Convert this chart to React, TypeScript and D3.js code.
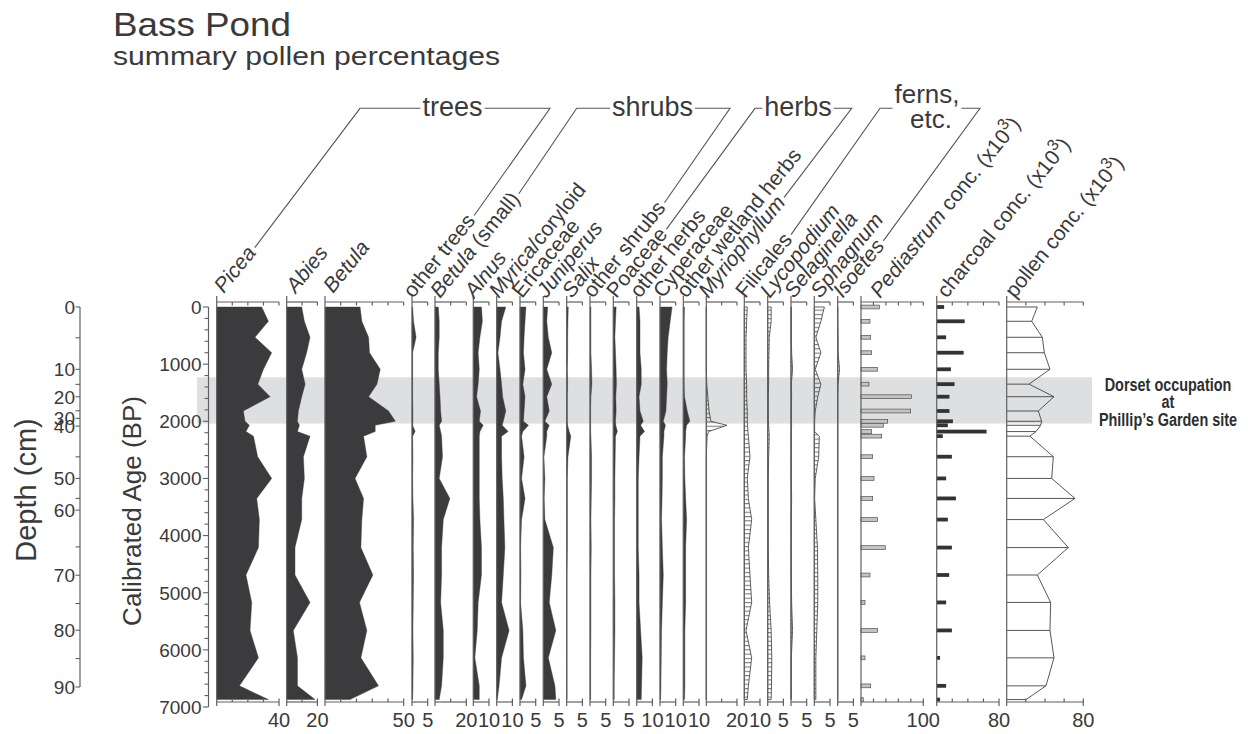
import React, { useEffect, useRef } from "react";
import * as d3 from "d3";

// ---- data -------------------------------------------------------------
const sampleAges = [0, 250, 530, 800, 1090, 1350, 1570, 1820, 2000, 2070, 2180, 2260, 2620, 3000, 3350, 3720, 4210, 4690, 5170, 5660, 6140, 6630, 6870];

const picea = [28.9, 33.2, 24.6, 35.3, 30.0, 26.4, 34.3, 17.1, 18.2, 21.0, 18.8, 23.6, 26.3, 35.3, 25.7, 27.4, 26.8, 18.8, 22.5, 21.4, 26.8, 14.6, 33.2];
const abies = [9.8, 11.5, 15.2, 13.0, 9.8, 12.0, 9.8, 7.6, 7.0, 8.3, 7.0, 15.2, 10.9, 11.5, 9.8, 9.8, 5.4, 5.4, 15.2, 4.3, 7.0, 7.0, 18.5];
const betula = [22.3, 23.4, 27.7, 28.3, 35.1, 33.0, 27.7, 40.4, 44.7, 31.9, 31.9, 24.5, 26.6, 19.1, 24.5, 23.4, 22.8, 30.4, 21.9, 26.6, 22.8, 34.0, 15.9];
const otherTrees = [0.2, 0.5, 1.3, 0.2, 0.2, 0.2, 0.2, 0.3, 0.3, 0.2, 1.0, 0.2, 0.3, 0.2, 0.3, 0.5, 0.4, 0.5, 0.4, 0.3, 0.4, 0.3, 0.2];
const betulaSmall = [2.1, 2.7, 2.7, 2.1, 2.1, 2.7, 3.2, 3.6, 4.2, 2.7, 3.6, 4.2, 4.8, 2.7, 9.5, 5.3, 4.2, 4.2, 3.6, 5.3, 5.3, 4.2, 2.7];
const alnus = [5.2, 5.8, 4.2, 3.1, 3.8, 3.1, 2.1, 4.6, 3.8, 6.3, 4.2, 3.8, 3.8, 3.8, 3.8, 4.2, 5.2, 5.2, 3.1, 2.5, 1.0, 3.8, 3.8];
const myrica = [5.8, 3.1, 2.1, 0.8, 2.1, 3.1, 3.8, 5.8, 4.2, 3.5, 7.3, 3.1, 3.1, 3.5, 4.2, 4.6, 5.2, 4.2, 3.1, 7.9, 3.1, 1.5, 0.4];
const ericaceae = [1.9, 1.6, 1.3, 1.1, 1.6, 0.9, 1.6, 1.3, 1.1, 2.7, 0.9, 0.5, 1.3, 0.5, 1.6, 0.5, 0.2, 0.3, 0.2, 0.9, 1.1, 1.9, 0.5];
const juniperus = [1.4, 1.1, 1.6, 2.7, 1.1, 2.7, 1.1, 1.9, 0.5, 1.9, 1.1, 1.1, 0.2, 0.5, 0.3, 0.5, 3.2, 2.7, 1.9, 4.0, 1.6, 3.7, 4.0];
const salix = [0.5, 0.4, 0.3, 0.3, 0.2, 0.3, 0.2, 0.2, 0.2, 0.3, 0.8, 1.3, 0.4, 0.2, 0.2, 0.2, 0.2, 0.1, 0.1, 0.1, 0.1, 0.1, 0.1];
const otherShrubs = [0.3, 0.3, 0.3, 0.3, 0.5, 0.6, 0.3, 0.2, 0.2, 0.2, 0.2, 0.3, 0.5, 0.5, 0.4, 0.3, 0.4, 0.3, 0.3, 0.3, 0.2, 0.2, 0.2];
const poaceae = [0.9, 0.7, 0.5, 0.7, 0.9, 1.0, 0.8, 0.9, 0.7, 0.8, 1.3, 0.7, 0.6, 0.5, 0.5, 0.4, 0.4, 0.4, 0.5, 0.5, 0.4, 0.3, 0.3];
const otherHerbs = [1.5, 2.1, 2.1, 2.1, 2.9, 2.9, 1.5, 2.1, 4.2, 2.5, 5.0, 2.1, 1.5, 1.0, 1.0, 1.0, 1.0, 1.5, 1.5, 2.5, 3.5, 3.1, 2.9];
const cyperaceae = [7.7, 6.5, 5.2, 4.6, 4.2, 4.6, 4.2, 3.8, 2.1, 3.5, 2.5, 2.5, 1.5, 1.5, 1.3, 1.0, 1.5, 2.1, 1.5, 1.0, 0.8, 0.6, 0.4];
const otherWetland = [0.8, 0.6, 0.6, 0.6, 0.6, 0.6, 0.8, 2.5, 4.2, 2.1, 1.5, 1.5, 0.8, 1.0, 1.5, 2.1, 1.5, 1.5, 1.5, 1.0, 1.0, 1.0, 0.8];
const myriophyllum = [0, 0, 0, 0, 0, 0.3, 1.0, 1.8, 3.0, 13.5, 1.5, 0.5, 0, 0, 0, 0, 0, 0, 0, 0, 0, 0, 0];
const filicales = [1.9, 1.5, 1.1, 1.1, 1.1, 1.5, 1.5, 1.9, 1.9, 2.1, 2.3, 2.6, 3.6, 1.9, 2.6, 4.7, 2.6, 3.6, 4.7, 1.1, 4.7, 2.6, 1.9];
const lycopodium = [1.1, 1.1, 0.5, 0.4, 0.3, 0.3, 0.2, 0.2, 0.2, 0.3, 0.4, 0.5, 0.3, 0.2, 0.2, 0.2, 0.2, 0.3, 0.6, 1.1, 1.3, 1.2, 1.1];
const selaginella = [0.1, 0.1, 0.1, 0.2, 0.5, 0.1, 0.2, 0.1, 0.1, 0.2, 0.1, 0.1, 0.1, 0.1, 0.2, 0.1, 0.1, 0.1, 0.2, 0.5, 0.1, 0.1, 0.1];
const sphagnum = [3.2, 2.1, 0.5, 2.1, 0.3, 2.1, 1.1, 0.3, 0.1, 0.1, 0.1, 1.6, 1.4, 0.3, 0.1, 0.5, 1.0, 1.1, 1.1, 0.8, 0.5, 0.5, 0.5];
const isoetes = [0, 0, 0.1, 0.1, 0.6, 0.1, 0, 0, 0, 0, 0, 0, 0, 0, 0, 0, 0, 0, 0, 0, 0, 0, 0];
const pediastrumConc = [29.4, 14.4, 15.5, 17.1, 26.7, 12.8, 81.3, 79.7, 42.8, 35.8, 17.1, 33.2, 18.7, 20.9, 18.7, 26.7, 39.0, 14.4, 6.4, 26.7, 6.4, 15.5, 3.7];
const charcoalConc = [9.5, 35.9, 12.1, 34.6, 18.2, 22.9, 16.4, 16.4, 20.8, 14.3, 64.0, 7.8, 19.5, 12.1, 24.7, 14.3, 19.5, 16.0, 12.1, 19.5, 4.3, 12.1, 4.3];
const pollenConc = [32.0, 26.1, 37.2, 39.3, 45.2, 23.3, 49.4, 33.0, 36.5, 35.5, 30.6, 24.3, 48.7, 47.0, 71.3, 38.3, 64.3, 32.0, 45.9, 45.2, 49.4, 41.0, 20.2];

const ageTicks = [0, 1000, 2000, 3000, 4000, 5000, 6000, 7000];
const depthTicks = [0, 10, 20, 30, 40, 50, 60, 70, 80, 90];
const depthMinorTicks = [5, 15, 25, 45, 55, 65, 75, 85];
const depthModelCm = [0, 5, 10, 15, 20, 25, 30, 40, 45, 50, 55, 60, 65, 70, 75, 80, 85, 90];
const depthModelAge = [0, 538, 1091, 1354, 1571, 1816, 1949, 2084, 2622, 3000, 3350, 3555, 4198, 4694, 5189, 5657, 6152, 6650];
const dorsetPeriod = [1230, 2040];
const dorsetLines = ["Dorset occupation", "at", "Phillip\u2019s Garden site"];

type Part = { t: string; i?: boolean; sup?: boolean };

export default function App() {
  const ref = useRef<SVGSVGElement>(null);

  useEffect(() => {
    const node = ref.current;
    if (!node) return;
    const svg = d3.select(node);
    svg.selectAll("*").remove();

    const FONT = "'Liberation Sans', Arial, Helvetica, sans-serif";
    const INK = "#3a3a3a";
    const AXIS = "#606060";
    const FILL = "#3b3b3d";
    const TOP = 302;
    const BOT = 702;
    const y = d3.scaleLinear().domain([0, 7000]).range([307, 707]);

    const conc = (s: string, italic = false): Part[] => [
      { t: s, i: italic },
      { t: " conc. (x10" },
      { t: "3", sup: true },
      { t: ")" },
    ];

    const taxa: { label: Part[]; values: number[]; max: number; step: number; kind: string }[] = [
      { label: [{ t: "Picea", i: true }], values: picea, max: 40, step: 10, kind: "solid" },
      { label: [{ t: "Abies", i: true }], values: abies, max: 20, step: 10, kind: "solid" },
      { label: [{ t: "Betula", i: true }], values: betula, max: 50, step: 10, kind: "solid" },
      { label: [{ t: "other trees" }], values: otherTrees, max: 5, step: 5, kind: "solid" },
      { label: [{ t: "Betula", i: true }, { t: " (small)" }], values: betulaSmall, max: 20, step: 10, kind: "solid" },
      { label: [{ t: "Alnus", i: true }], values: alnus, max: 10, step: 10, kind: "solid" },
      { label: [{ t: "Myrica", i: true }, { t: "/coryloid" }], values: myrica, max: 10, step: 10, kind: "solid" },
      { label: [{ t: "Ericaceae" }], values: ericaceae, max: 5, step: 5, kind: "solid" },
      { label: [{ t: "Juniperus", i: true }], values: juniperus, max: 5, step: 5, kind: "solid" },
      { label: [{ t: "Salix", i: true }], values: salix, max: 5, step: 5, kind: "solid" },
      { label: [{ t: "other shrubs" }], values: otherShrubs, max: 5, step: 5, kind: "solid" },
      { label: [{ t: "Poaceae" }], values: poaceae, max: 5, step: 5, kind: "solid" },
      { label: [{ t: "other herbs" }], values: otherHerbs, max: 10, step: 10, kind: "solid" },
      { label: [{ t: "Cyperaceae" }], values: cyperaceae, max: 10, step: 10, kind: "solid" },
      { label: [{ t: "other wetland herbs" }], values: otherWetland, max: 10, step: 10, kind: "solid" },
      { label: [{ t: "Myriophyllum", i: true }], values: myriophyllum, max: 20, step: 10, kind: "hatch" },
      { label: [{ t: "Filicales" }], values: filicales, max: 10, step: 10, kind: "hatch" },
      { label: [{ t: "Lycopodium", i: true }], values: lycopodium, max: 5, step: 5, kind: "hatch" },
      { label: [{ t: "Selaginella", i: true }], values: selaginella, max: 5, step: 5, kind: "hatch" },
      { label: [{ t: "Sphagnum", i: true }], values: sphagnum, max: 5, step: 5, kind: "hatch" },
      { label: [{ t: "Isoetes", i: true }], values: isoetes, max: 5, step: 5, kind: "hatch" },
      { label: conc("Pediastrum", true), values: pediastrumConc, max: 100, step: 20, kind: "barLight" },
      { label: conc("charcoal"), values: charcoalConc, max: 80, step: 20, kind: "barDark" },
      { label: conc("pollen"), values: pollenConc, max: 80, step: 20, kind: "outline" },
    ];

    // layout: panel left edge and width (px)
    const NW = 15.7;
    const layout: [number, number][] = [
      [216.7, 62.3], [286.7, 30.7], [325, 78.7], [412, NW], [435, 31.3], [473.3, NW], [496.7, NW],
      [520, NW], [543.3, NW], [566.7, NW], [590, NW], [613.3, NW], [636.7, NW], [660, NW], [683.3, NW],
      [706.3, 30.7], [744.3, NW], [767.7, NW], [791, NW], [814.3, NW], [837.7, NW],
      [861, 62.3], [936.7, 62.3], [1006.7, 76.6],
    ];
    const labelDx = [7, 9, 8, 1, 5, 1, 2, 2, 3, 5, 3, 3, 3, 3, 3, 2, 1, 2, 3, 6, 5, 19, 10, 8];

    const defs = svg.append("defs");
    const pat = defs.append("pattern").attr("id", "hatch").attr("patternUnits", "userSpaceOnUse")
      .attr("width", 8).attr("height", 4.3);
    pat.append("line").attr("x1", 0).attr("x2", 8).attr("y1", 0.6).attr("y2", 0.6)
      .attr("stroke", "#3a3a3a").attr("stroke-width", 0.8);

    // background
    svg.append("rect").attr("width", 1248).attr("height", 734).attr("fill", "#fff");

    // Dorset band
    svg.append("rect").attr("x", 197).attr("width", 1092 - 197)
      .attr("y", y(dorsetPeriod[0])).attr("height", y(dorsetPeriod[1]) - y(dorsetPeriod[0]))
      .attr("fill", "#dedfe1");

    // ---- panels
    taxa.forEach((tx, k) => {
      const [lx, w] = layout[k];
      const x = d3.scaleLinear().domain([0, tx.max]).range([lx, lx + w]);
      const g = svg.append("g");
      const pts = tx.values.map((v, i) => ({ v, a: sampleAges[i] }));

      if (tx.kind === "solid" || tx.kind === "hatch") {
        const area = d3.area<{ v: number; a: number }>()
          .y((d) => y(d.a)).x0(x(0)).x1((d) => x(d.v));
        g.append("path").attr("d", area(pts) as string)
          .attr("fill", tx.kind === "solid" ? FILL : "url(#hatch)")
          .attr("stroke", tx.kind === "solid" ? FILL : "#3a3a3a")
          .attr("stroke-width", tx.kind === "solid" ? 0.4 : 0.8);
      } else if (tx.kind === "barLight" || tx.kind === "barDark") {
        g.selectAll("rect").data(pts).join("rect")
          .attr("x", x(0)).attr("y", (d) => y(d.a) - 1.9)
          .attr("width", (d) => x(d.v) - x(0)).attr("height", 3.8)
          .attr("fill", tx.kind === "barLight" ? "#c4c4c4" : "#333335")
          .attr("stroke", tx.kind === "barLight" ? "#505050" : "none")
          .attr("stroke-width", 0.7);
      } else {
        const line = d3.line<{ v: number; a: number }>().x((d) => x(d.v)).y((d) => y(d.a));
        g.append("path").attr("d", line(pts) as string).attr("fill", "none")
          .attr("stroke", "#444").attr("stroke-width", 0.9);
        g.selectAll("line.h").data(pts).join("line").attr("class", "h")
          .attr("x1", x(0)).attr("x2", (d) => x(d.v))
          .attr("y1", (d) => y(d.a)).attr("y2", (d) => y(d.a))
          .attr("stroke", "#444").attr("stroke-width", 0.9);
      }

      // axes
      const ax = g.append("g").attr("stroke", AXIS).attr("stroke-width", 1.2).attr("fill", "none");
      ax.append("line").attr("x1", x(0)).attr("x2", x(0)).attr("y1", TOP - 6).attr("y2", BOT + 4);
      ax.append("line").attr("x1", x(0)).attr("x2", x(tx.max)).attr("y1", TOP).attr("y2", TOP);
      ax.append("line").attr("x1", x(0)).attr("x2", x(tx.max)).attr("y1", BOT).attr("y2", BOT);
      const ticks = d3.range(tx.step, tx.max + 1e-6, tx.step);
      ticks.forEach((t) => {
        ax.append("line").attr("x1", x(t)).attr("x2", x(t)).attr("y1", TOP).attr("y2", TOP + 3.5);
        ax.append("line").attr("x1", x(t)).attr("x2", x(t)).attr("y1", BOT - 3.5)
          .attr("y2", t === tx.max ? BOT + 4 : BOT);
      });
      svg.append("text").attr("x", x(tx.max)).attr("y", 727).attr("text-anchor", "middle")
        .attr("font-family", FONT).attr("font-size", 20).attr("fill", INK).text(String(tx.max));
    });

    // ---- rotated labels
    const ANG = 51;
    const th = (ANG * Math.PI) / 180;
    const ends: [number, number][] = [];
    taxa.forEach((tx, k) => {
      const [lx] = layout[k];
      const axp = lx + labelDx[k];
      const ayp = k < 3 ? 294 : 299;
      const t = svg.append("text").attr("transform", `translate(${axp},${ayp}) rotate(${-ANG})`)
        .attr("font-family", FONT).attr("font-size", 21).attr("fill", INK);
      let prevSup = false;
      tx.label.forEach((p) => {
        const s = t.append("tspan").text(p.t);
        if (p.i) s.attr("font-style", "italic");
        if (p.sup) s.attr("font-size", 16).attr("dy", -9);
        else if (prevSup) s.attr("dy", 9);
        prevSup = !!p.sup;
      });
      const L = (t.node() as SVGTextElement).getComputedTextLength();
      ends.push([
        axp + (L + 3) * Math.cos(th) - 5 * Math.sin(th),
        ayp - (L + 3) * Math.sin(th) - 5 * Math.cos(th),
      ]);
    });

    // ---- group headers
    const HY = 108.3;
    const groups = [
      { name: "trees", first: 0, last: 3, x1: 360, x2: 550, cx: 452.5 },
      { name: "shrubs", first: 4, last: 10, x1: 576.7, x2: 730, cx: 652.5 },
      { name: "herbs", first: 11, last: 15, x1: 755, x2: 851.7, cx: 798 },
      { name: "ferns,", first: 16, last: 20, x1: 880, x2: 980, cx: 927 },
    ];
    groups.forEach((gr) => {
      const isF = gr.name === "ferns,";
      const t = svg.append("text").attr("x", gr.cx).attr("y", isF ? 103 : 116)
        .attr("text-anchor", "middle").attr("font-family", FONT).attr("font-size", isF ? 26 : 27)
        .attr("fill", INK).text(gr.name);
      if (isF) {
        svg.append("text").attr("x", gr.cx + 4).attr("y", 128).attr("text-anchor", "middle")
          .attr("font-family", FONT).attr("font-size", 26).attr("fill", INK).text("etc.");
      }
      const w = (t.node() as SVGTextElement).getComputedTextLength();
      const lg = svg.append("g").attr("stroke", "#555").attr("stroke-width", 1.1).attr("fill", "none");
      const a = ends[gr.first];
      const b = ends[gr.last];
      lg.append("polyline").attr("points", `${a[0]},${a[1]} ${gr.x1},${HY} ${gr.cx - w / 2 - 2},${HY}`);
      lg.append("polyline").attr("points", `${gr.cx + w / 2 + 2},${HY} ${gr.x2},${HY} ${b[0]},${b[1]}`);
    });

    // ---- age axis
    const AX = 208.5;
    const ag = svg.append("g");
    ag.append("line").attr("x1", AX).attr("x2", AX).attr("y1", y(0)).attr("y2", y(7000))
      .attr("stroke", AXIS).attr("stroke-width", 1.2);
    d3.range(0, 7001, 200).forEach((a) => {
      const major = a % 1000 === 0;
      ag.append("line").attr("x1", AX - (major ? 5.5 : 4)).attr("x2", AX).attr("y1", y(a)).attr("y2", y(a))
        .attr("stroke", AXIS).attr("stroke-width", 1.1);
    });
    ageTicks.forEach((a) => {
      ag.append("text").attr("x", AX - 7).attr("y", y(a)).attr("dy", "0.36em").attr("text-anchor", "end")
        .attr("font-family", FONT).attr("font-size", 19).attr("fill", INK).text(String(a));
    });
    svg.append("text").attr("transform", `translate(141,511) rotate(-90)`).attr("text-anchor", "middle")
      .attr("font-family", FONT).attr("font-size", 26).attr("fill", INK).text("Calibrated Age (BP)");

    // ---- depth axis (age-depth model)
    const depthToAge = d3.scaleLinear().domain(depthModelCm).range(depthModelAge);
    const DX = 80;
    const dg = svg.append("g");
    dg.append("line").attr("x1", DX).attr("x2", DX).attr("y1", y(depthToAge(0))).attr("y2", y(depthToAge(90)))
      .attr("stroke", AXIS).attr("stroke-width", 1.2);
    [...depthTicks, ...depthMinorTicks].forEach((d) => {
      dg.append("line").attr("x1", DX - 4.5).attr("x2", DX)
        .attr("y1", y(depthToAge(d))).attr("y2", y(depthToAge(d)))
        .attr("stroke", AXIS).attr("stroke-width", 1.1);
    });
    depthTicks.forEach((d) => {
      dg.append("text").attr("x", DX - 5).attr("y", y(depthToAge(d))).attr("dy", "0.36em")
        .attr("text-anchor", "end").attr("font-family", FONT).attr("font-size", 19).attr("fill", INK)
        .text(String(d));
    });
    svg.append("text").attr("transform", `translate(36,490) rotate(-90)`).attr("text-anchor", "middle")
      .attr("font-family", FONT).attr("font-size", 29).attr("fill", INK).text("Depth (cm)");

    // ---- title
    svg.append("text").attr("x", 113).attr("y", 36).attr("font-family", FONT).attr("font-size", 34)
      .attr("fill", INK).attr("textLength", 178).attr("lengthAdjust", "spacingAndGlyphs").text("Bass Pond");
    svg.append("text").attr("x", 113).attr("y", 65).attr("font-family", FONT).attr("font-size", 26)
      .attr("fill", INK).attr("textLength", 387).attr("lengthAdjust", "spacingAndGlyphs")
      .text("summary pollen percentages");

    // ---- Dorset annotation
    const baselines = [390.5, 408, 426];
    dorsetLines.forEach((s, i) => {
      svg.append("text").attr("transform", `translate(1168,${baselines[i]}) scale(0.76,1)`)
        .attr("text-anchor", "middle").attr("font-family", FONT).attr("font-weight", "bold")
        .attr("font-size", 19).attr("fill", "#2e2e2e").text(s);
    });
  }, []);

  return (
    <svg
      ref={ref}
      width={1248}
      height={734}
      style={{ position: "absolute", left: 0, top: 0, display: "block" }}
    />
  );
}
